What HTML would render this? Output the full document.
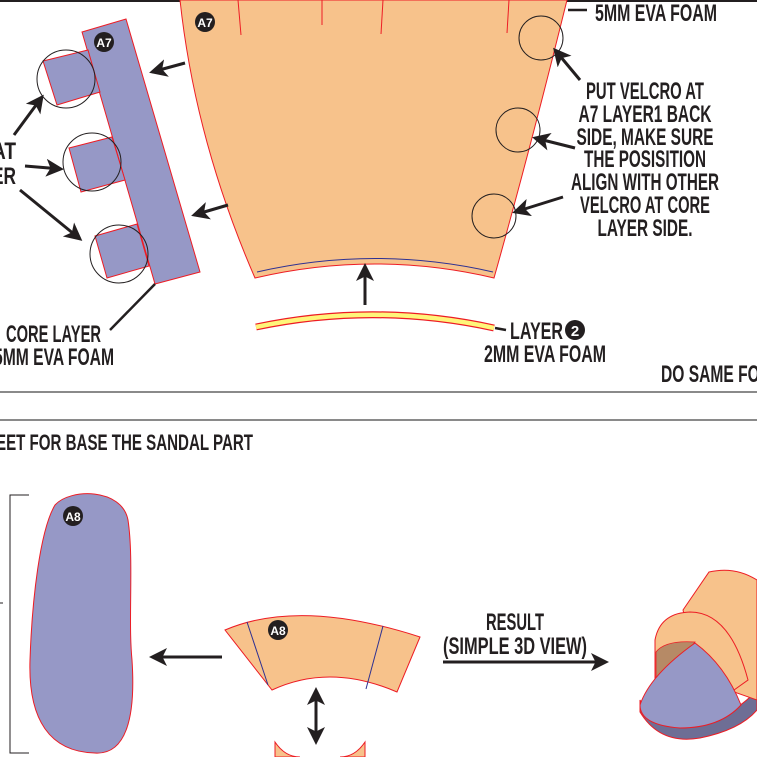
<!DOCTYPE html>
<html><head><meta charset="utf-8"><style>
html,body{margin:0;padding:0;background:#fff;width:757px;height:757px;overflow:hidden}
svg{display:block}
text{font-family:"Liberation Sans",sans-serif;font-weight:bold;fill:#231f20}
</style></head><body>
<svg width="757" height="757" viewBox="0 0 757 757" xmlns="http://www.w3.org/2000/svg">
<defs>
<marker id="ah" markerWidth="6" markerHeight="6" refX="5" refY="3" orient="auto" markerUnits="strokeWidth">
<path d="M0,0 L6,3 L0,6 L1.5,3 Z" fill="#231f20"/></marker>
</defs>
<line x1="0" y1="1" x2="757" y2="1" stroke="#231f20" stroke-width="2"/>
<line x1="0" y1="392" x2="757" y2="392" stroke="#444" stroke-width="1.2"/>
<line x1="0" y1="420" x2="757" y2="420" stroke="#444" stroke-width="1.2"/>

<path d="M180,0 Q195,140 255,278 Q375,250 494,278 Q530,150 567,0 Z" fill="#f7c28b" stroke="#ed1c24" stroke-width="1"/>
<path d="M257,272 Q375,245 493,272" fill="none" stroke="#2e3192" stroke-width="1"/>
<g stroke="#ed1c24" stroke-width="1"><line x1="238" y1="0" x2="241" y2="35"/><line x1="322" y1="0" x2="322" y2="25"/><line x1="383" y1="0" x2="381" y2="34"/><line x1="509" y1="0" x2="507" y2="33"/></g>
<circle cx="205" cy="22" r="10" fill="#231f20"/><text x="205" y="27" font-size="12" text-anchor="middle" style="fill:#fff">A7</text>

<polygon points="82,32 126,19 200,272 155,284" fill="#9698c6" stroke="#ed1c24" stroke-width="1"/>
<polygon points="43,61 88,50 100,92 57,105" fill="#9698c6" stroke="#ed1c24" stroke-width="1"/>
<polygon points="69,148 112,137 125,180 81,192" fill="#9698c6" stroke="#ed1c24" stroke-width="1"/>
<polygon points="95,236 137,224 149,266 107,278" fill="#9698c6" stroke="#ed1c24" stroke-width="1"/>
<g fill="none" stroke="#231f20" stroke-width="1"><circle cx="66" cy="79" r="29"/><circle cx="92" cy="162" r="29"/><circle cx="119" cy="254" r="29"/>
<circle cx="541" cy="38" r="22"/><circle cx="518" cy="130" r="22"/><circle cx="494" cy="216" r="22"/></g>
<circle cx="104" cy="42" r="10" fill="#231f20"/><text x="104" y="47" font-size="12" text-anchor="middle" style="fill:#fff">A7</text>

<g stroke="#231f20" stroke-width="3" marker-end="url(#ah)" fill="none">
<line x1="185" y1="63" x2="152" y2="72"/>
<line x1="228" y1="205" x2="194" y2="215"/>
<line x1="14" y1="135" x2="42" y2="97"/>
<line x1="25" y1="166" x2="61" y2="169"/>
<line x1="20" y1="190" x2="80" y2="239"/>
<line x1="580" y1="80" x2="555" y2="50"/>
<line x1="575" y1="148" x2="535" y2="138"/>
<line x1="563" y1="197" x2="515" y2="212"/>
<line x1="365" y1="305" x2="365" y2="266"/>
<line x1="222" y1="657" x2="152" y2="657"/>
<line x1="443" y1="662" x2="606" y2="662"/>
<line x1="316" y1="715" x2="316" y2="690"/>
<line x1="316" y1="715" x2="316" y2="742"/>
</g>
<line x1="155" y1="284" x2="110" y2="330" stroke="#231f20" stroke-width="2.5"/>
<line x1="568" y1="10" x2="587" y2="10" stroke="#231f20" stroke-width="2.5"/>
<line x1="495" y1="328" x2="506" y2="330" stroke="#231f20" stroke-width="2.5"/>

<g font-size="24">
<text x="-8" y="159" textLength="24" lengthAdjust="spacingAndGlyphs">AT</text>
<text x="-8" y="184" textLength="24" lengthAdjust="spacingAndGlyphs">ER</text>
<text x="6" y="342" textLength="95" lengthAdjust="spacingAndGlyphs">CORE LAYER</text>
<text x="-6" y="365" textLength="120" lengthAdjust="spacingAndGlyphs">5MM EVA FOAM</text>
<text x="595" y="21" textLength="122" lengthAdjust="spacingAndGlyphs">5MM EVA FOAM</text>
<g text-anchor="middle">
<text x="645" y="99" textLength="118" lengthAdjust="spacingAndGlyphs">PUT VELCRO AT</text>
<text x="645" y="122" textLength="133" lengthAdjust="spacingAndGlyphs">A7 LAYER1 BACK</text>
<text x="645" y="145" textLength="137" lengthAdjust="spacingAndGlyphs">SIDE, MAKE SURE</text>
<text x="645" y="167" textLength="122" lengthAdjust="spacingAndGlyphs">THE POSISITION</text>
<text x="645" y="190" textLength="148" lengthAdjust="spacingAndGlyphs">ALIGN WITH OTHER</text>
<text x="645" y="213" textLength="130" lengthAdjust="spacingAndGlyphs">VELCRO AT CORE</text>
<text x="645" y="236" textLength="95" lengthAdjust="spacingAndGlyphs">LAYER SIDE.</text>
</g>
<text x="510" y="339" textLength="53" lengthAdjust="spacingAndGlyphs">LAYER</text>
<text x="484" y="362" textLength="122" lengthAdjust="spacingAndGlyphs">2MM EVA FOAM</text>
<text x="661" y="382" textLength="110" lengthAdjust="spacingAndGlyphs">DO SAME FOR</text>
<text x="-4" y="450" font-size="22" textLength="257" lengthAdjust="spacingAndGlyphs">EET FOR BASE THE SANDAL PART</text>
<text x="515" y="630" text-anchor="middle" textLength="58" lengthAdjust="spacingAndGlyphs">RESULT</text>
<text x="515" y="654" text-anchor="middle" textLength="144" lengthAdjust="spacingAndGlyphs">(SIMPLE 3D VIEW)</text>
</g>
<circle cx="575" cy="330" r="10" fill="#231f20"/><text x="575" y="336" font-size="15" text-anchor="middle" style="fill:#fff">2</text>

<path d="M256,327 Q375,302 494,328" fill="none" stroke="#ed1c24" stroke-width="7"/>
<path d="M256,327 Q375,302 494,328" fill="none" stroke="#fff57a" stroke-width="4.5"/>

<path d="M29,495 L10,495 L10,753 L29,753" fill="none" stroke="#231f20" stroke-width="1"/>
<line x1="0" y1="603" x2="3" y2="603" stroke="#231f20"/>
<path d="M55,505 C70,488 122,488 128,520 C134,560 128,620 132,660 C136,720 125,755 95,753 C50,752 28,720 30,660 C32,600 40,530 55,505 Z" fill="#9698c6" stroke="#ed1c24" stroke-width="1"/>
<circle cx="73" cy="516" r="10" fill="#231f20"/><text x="73" y="521" font-size="12" text-anchor="middle" style="fill:#fff">A8</text>

<path d="M225,630 Q300,598 420,637 L397,692 Q330,663 272,690 Z" fill="#f7c28b" stroke="#ed1c24" stroke-width="1"/>
<g stroke="#2e3192" stroke-width="1"><line x1="247" y1="622" x2="268" y2="685"/><line x1="383" y1="626" x2="366" y2="689"/></g>
<circle cx="278" cy="630" r="10" fill="#231f20"/><text x="278" y="635" font-size="12" text-anchor="middle" style="fill:#fff">A8</text>
<path d="M275,742 Q285,757 300,757 L275,757 Z" fill="#f7c28b" stroke="#ed1c24"/>
<path d="M365,742 Q355,757 340,757 L365,757 Z" fill="#f7c28b" stroke="#ed1c24"/>

<path d="M640,712 Q660,745 700,738 Q740,730 757,710 L757,690 Q730,720 690,722 Q650,722 640,700 Z" fill="#6e6e95" stroke="#ed1c24"/>
<path d="M683,610 L709,572 Q735,566 757,580 L757,700 L700,680 Z" fill="#f7c28b" stroke="#ed1c24"/>
<path d="M655,680 L655,640 Q660,613 690,612 Q730,612 748,680 L720,700 Z" fill="#f7c28b" stroke="#ed1c24"/>
<path d="M656,690 L656,652 Q665,640 695,642 Z" fill="#b68a66" stroke="#ed1c24" stroke-width="0.8"/>
<path d="M695,643 Q725,665 741,705 Q720,728 680,728 Q640,725 640,705 Q650,675 695,643 Z" fill="#9698c6" stroke="#ed1c24"/>
</svg>
</body></html>
